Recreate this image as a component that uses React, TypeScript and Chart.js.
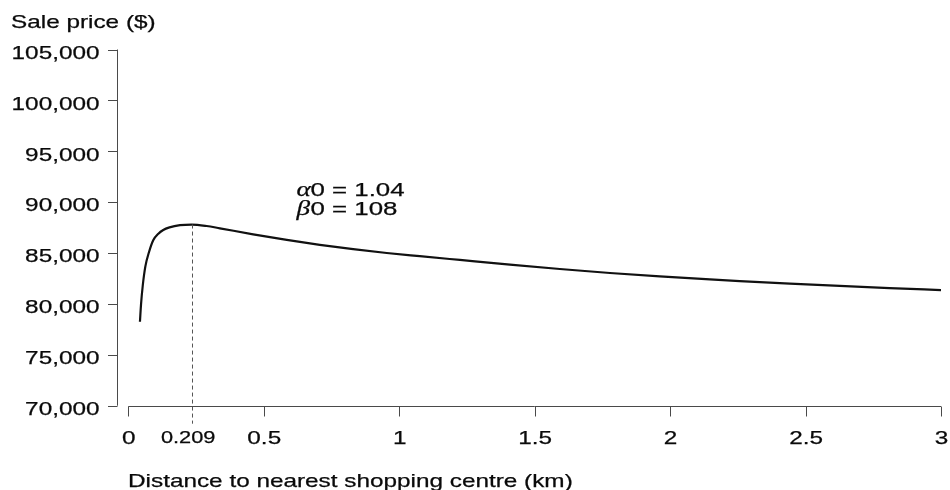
import React, { useEffect, useRef } from "react";
import { Chart, registerables } from "chart.js";

Chart.register(...registerables);

const DIST = [0.043, 0.047, 0.0535, 0.063, 0.076, 0.092, 0.111, 0.129, 0.152, 0.191, 0.234, 0.289, 0.338, 0.461, 0.585, 0.707, 0.83, 0.954, 1.076, 1.224, 1.409, 1.593, 1.778, 1.962, 2.147, 2.257, 2.442, 2.626, 2.81, 3.0];
const PRICE = [78250, 79950, 81835, 83690, 85050, 86250, 86900, 87270, 87520, 87740, 87800, 87660, 87430, 86840, 86288, 85806, 85382, 85004, 84690, 84320, 83860, 83430, 83040, 82710, 82410, 82250, 82000, 81770, 81560, 81360];

const PEAK_X = 0.234;
const PEAK_Y = 87800;
const PEAK_LABEL = "0.209";

const X_TICKS = [0, 0.5, 1, 1.5, 2, 2.5, 3];
const X_TICK_LABELS = ["0", "0.5", "1", "1.5", "2", "2.5", "3"];
const Y_TICKS = [70000, 75000, 80000, 85000, 90000, 95000, 100000, 105000];
const Y_TICK_LABELS = ["70,000", "75,000", "80,000", "85,000", "90,000", "95,000", "100,000", "105,000"];

const Y_TITLE = "Sale price ($)";
const X_TITLE = "Distance to nearest shopping centre (km)";
const ANNOT_ALPHA = ["α", "0 = 1.04"];
const ANNOT_BETA = ["β", "0 = 108"];

const FONT = "'Liberation Sans', Arial, Helvetica, sans-serif";
const SERIF = "'Liberation Serif', 'DejaVu Serif', serif";
const SX = 1.28;
const TEXT_COLOR = "#0a0a0a";
const AXIS_COLOR = "#4a4a4a";

function drawText(ctx: CanvasRenderingContext2D, text: string, x: number, y: number, align: CanvasTextAlign, size: number, italic = false, family = FONT, sx = SX) {
  ctx.save();
  ctx.translate(x, y);
  ctx.scale(sx, 1);
  ctx.font = `${italic ? "italic " : ""}${size}px ${family}`;
  ctx.textAlign = align;
  ctx.textBaseline = "alphabetic";
  ctx.fillStyle = TEXT_COLOR;
  ctx.strokeStyle = TEXT_COLOR;
  ctx.lineWidth = 0.25;
  ctx.fillText(text, 0, 0);
  ctx.strokeText(text, 0, 0);
  ctx.restore();
}

const axesPlugin = {
  id: "rStyleAxes",
  afterDatasetsDraw(chart: any) {
    const ctx: CanvasRenderingContext2D = chart.ctx;
    const xs = chart.scales.x;
    const ys = chart.scales.y;
    const area = chart.chartArea;

    ctx.save();
    ctx.strokeStyle = "#555555";
    ctx.lineWidth = 1;
    ctx.setLineDash([4, 3]);
    const px = Math.round(xs.getPixelForValue(PEAK_X)) + 0.5;
    ctx.beginPath();
    ctx.moveTo(px, ys.getPixelForValue(PEAK_Y));
    ctx.lineTo(px, area.bottom + 18);
    ctx.stroke();
    ctx.restore();
  },
  afterDraw(chart: any) {
    const ctx: CanvasRenderingContext2D = chart.ctx;
    const xs = chart.scales.x;
    const ys = chart.scales.y;
    const area = chart.chartArea;

    ctx.save();
    ctx.strokeStyle = AXIS_COLOR;
    ctx.lineWidth = 1;

    const yAxisX = Math.round(area.left - 11.6) + 0.5;
    const yTop = ys.getPixelForValue(Y_TICKS[Y_TICKS.length - 1]);
    const yBot = ys.getPixelForValue(Y_TICKS[0]);
    ctx.beginPath();
    ctx.moveTo(yAxisX, yTop);
    ctx.lineTo(yAxisX, yBot);
    Y_TICKS.forEach((v) => {
      const py = Math.round(ys.getPixelForValue(v)) + 0.5;
      ctx.moveTo(yAxisX, py);
      ctx.lineTo(yAxisX - 9.5, py);
    });
    ctx.stroke();

    const xAxisY = Math.round(area.bottom) + 0.5;
    const xLeft = xs.getPixelForValue(X_TICKS[0]);
    const xRight = xs.getPixelForValue(X_TICKS[X_TICKS.length - 1]);
    ctx.beginPath();
    ctx.moveTo(xLeft, xAxisY);
    ctx.lineTo(xRight, xAxisY);
    X_TICKS.forEach((v) => {
      const pxx = Math.round(xs.getPixelForValue(v)) + 0.5;
      ctx.moveTo(pxx, xAxisY);
      ctx.lineTo(pxx, xAxisY + 10);
    });
    ctx.stroke();
    ctx.restore();

    Y_TICKS.forEach((v, i) => {
      const py = ys.getPixelForValue(v);
      drawText(ctx, Y_TICK_LABELS[i], 99.5, py + 9.3, "right", 19);
    });

    X_TICKS.forEach((v, i) => {
      const pxx = xs.getPixelForValue(v);
      drawText(ctx, X_TICK_LABELS[i], pxx + 0.5, 444, "center", 19);
    });
    drawText(ctx, PEAK_LABEL, xs.getPixelForValue(PEAK_X) - 3.5, 442.5, "center", 17);

    drawText(ctx, Y_TITLE, 11, 27.5, "left", 19);
    drawText(ctx, X_TITLE, 128, 486.5, "left", 19);

    const drawAnnot = (parts: string[], x: number, y: number) => {
      drawText(ctx, parts[0], x, y, "left", 21, true, SERIF, 1.3);
      drawText(ctx, parts[1], x + 14, y, "left", 19, false, FONT, 1.36);
    };
    drawAnnot(ANNOT_ALPHA, 296.5, 195.8);
    drawAnnot(ANNOT_BETA, 296.5, 214.5);
  },
};

export default function App() {
  const canvasRef = useRef<HTMLCanvasElement | null>(null);

  useEffect(() => {
    if (!canvasRef.current) return;
    const points = DIST.map((d, i) => ({ x: d, y: PRICE[i] }));
    const chart = new Chart(canvasRef.current, {
      type: "line",
      data: {
        datasets: [
          {
            data: points,
            borderColor: "#111111",
            borderWidth: 2.2,
            pointRadius: 0,
            cubicInterpolationMode: "monotone",
            fill: false,
          },
        ],
      },
      options: {
        responsive: false,
        animation: false,
        devicePixelRatio: 1,
        layout: { padding: { left: 128.3, right: 9, top: 49.5, bottom: 84.3 } },
        plugins: { legend: { display: false }, tooltip: { enabled: false } },
        scales: {
          x: { type: "linear", min: 0, max: 3, display: false },
          y: { type: "linear", min: 70000, max: 105000, display: false },
        },
      },
      plugins: [axesPlugin],
    } as any);
    return () => chart.destroy();
  }, []);

  return (
    <div style={{ position: "absolute", left: 0, top: 0, width: 950, height: 490, background: "#ffffff" }}>
      <canvas ref={canvasRef} width={950} height={490} style={{ display: "block" }} />
    </div>
  );
}
